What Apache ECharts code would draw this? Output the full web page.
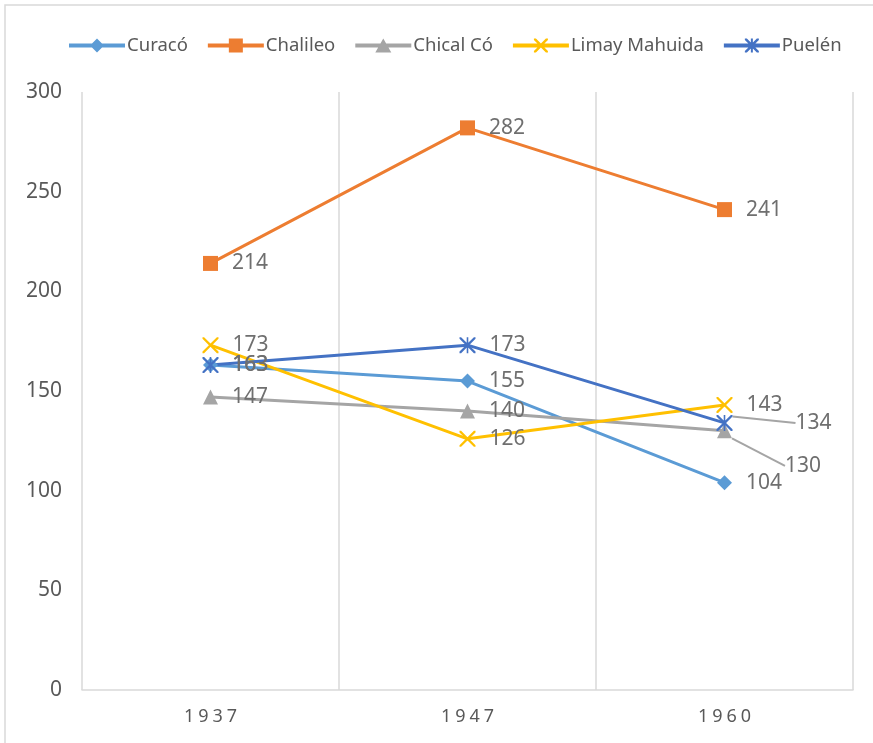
<!DOCTYPE html>
<html>
<head>
<meta charset="utf-8">
<script src="https://cdn.jsdelivr.net/npm/echarts@6/dist/echarts.min.js"></script>
<style>
  html, body { margin: 0; padding: 0; background: #fff; }
  #chart { width: 873px; height: 743px; }
</style>
</head>
<body>
<div id="chart"></div>
<script>
// datos
var years = ['1937', '1947', '1960'];
var curaco = [163, 155, 104];
var chalileo = [214, 282, 241];
var chicalCo = [147, 140, 130];
var limayMahuida = [173, 126, 143];
var puelen = [163, 173, 134];
var yTicks = { min: 0, max: 300, interval: 50 };

var txt = '#595959';
var lblTxt = '#6f6f6f';
var font = 'Noto Sans';

// marcadores tipo Excel
var xMark = 'path://M0,0 L2,0 L10,8 L18,0 L20,0 L20,2 L12,10 L20,18 L20,20 L18,20 L10,12 L2,20 L0,20 L0,18 L8,10 L0,2 Z';
var starMark = 'path://M0,0 L2,0 L10,8 L18,0 L20,0 L20,2 L12,10 L20,18 L20,20 L18,20 L10,12 L2,20 L0,20 L0,18 L8,10 L0,2 Z M9,0 L11,0 L11,20 L9,20 Z';

// iconos de leyenda: línea gruesa + marcador (caja 56x14)
var bar = 'M0,5 L56,5 L56,9 L0,9 Z ';
var legIcons = {
  'Curacó': 'path://' + bar + 'M28,0 L35,7 L28,14 L21,7 Z',
  'Chalileo': 'path://' + bar + 'M21,0 L35,0 L35,14 L21,14 Z',
  'Chical Có': 'path://' + bar + 'M28,0 L36,14 L20,14 Z',
  'Limay Mahuida': 'path://' + bar + 'M21,0 L23,0 L28,5 L33,0 L35,0 L35,1.5 L29.5,7 L35,12.5 L35,14 L33,14 L28,9 L23,14 L21,14 L21,12.5 L26.5,7 L21,1.5 Z',
  'Puelén': 'path://' + bar + 'M21,0 L23,0 L28,5 L33,0 L35,0 L35,1.5 L29.5,7 L35,12.5 L35,14 L33,14 L28,9 L23,14 L21,14 L21,12.5 L26.5,7 L21,1.5 Z M27,0 L29,0 L29,14 L27,14 Z'
};

function mkSerie(name, data, color, symbol, size) {
  return {
    name: name,
    type: 'line',
    data: data,
    symbol: symbol,
    symbolSize: size,
    lineStyle: { width: 3, color: color },
    itemStyle: { color: color },
    label: {
      show: true,
      position: 'right',
      distance: 14,
      color: lblTxt,
      fontSize: 21,
      fontFamily: font
    },
    animation: false
  };
}

// etiqueta desplazada con línea guía
function guided(v) {
  return { value: v, labelLine: { show: true, lineStyle: { color: '#a5a5a5', width: 2 } } };
}

var series = [
  mkSerie('Curacó', curaco, '#5B9BD5', 'diamond', 15),
  mkSerie('Chalileo', chalileo, '#ED7D31', 'rect', 15),
  mkSerie('Chical Có', chicalCo.map(function (v, i) { return i === 2 ? guided(v) : v; }), '#A5A5A5', 'triangle', 15),
  mkSerie('Limay Mahuida', limayMahuida, '#FFC000', xMark, 16),
  mkSerie('Puelén', puelen.map(function (v, i) { return i === 2 ? guided(v) : v; }), '#4472C4', starMark, 16)
];

series[4].labelLayout = function (p) {
  if (p.dataIndex === 2) return { dx: 49 };
};
series[2].labelLayout = function (p) {
  if (p.dataIndex === 2) return { dx: 39, dy: 35 };
};

var chart = echarts.init(document.getElementById('chart'));
chart.setOption({
  backgroundColor: '#fff',
  animation: false,
  textStyle: { fontFamily: font },
  graphic: [{
    type: 'rect',
    shape: { x: 5, y: 5, width: 900, height: 800 },
    style: { fill: 'none', stroke: '#d9d9d9', lineWidth: 1.5 },
    silent: true
  }],
  legend: {
    top: 31,
    left: 64,
    itemWidth: 56,
    itemHeight: 14,
    itemGap: 20,
    textStyle: { color: txt, fontSize: 18.5, fontFamily: font, padding: [0, 0, 0, -3] },
    data: series.map(function (s) { return { name: s.name, icon: legIcons[s.name] }; })
  },
  grid: { left: 82, right: 20, top: 92, bottom: 53 },
  xAxis: {
    type: 'category',
    data: years,
    boundaryGap: true,
    axisLine: { lineStyle: { color: '#d9d9d9', width: 1.5 } },
    axisTick: { show: false },
    axisLabel: {
      color: txt,
      fontSize: 18,
      margin: 18,
      fontFamily: font,
      formatter: function (v) {
        return v.split('').map(function (c) { return '{d|' + c + '}'; }).join('');
      },
      rich: { d: { color: txt, fontSize: 18, fontFamily: font, padding: [0, 2, 0, 2] } }
    },
    splitLine: { show: true, lineStyle: { color: '#d9d9d9', width: 1.5 } }
  },
  yAxis: {
    type: 'value',
    min: yTicks.min,
    max: yTicks.max,
    interval: yTicks.interval,
    axisLine: { show: false },
    axisTick: { show: false },
    axisLabel: { color: txt, fontSize: 21, margin: 20, fontFamily: font },
    splitLine: { show: false }
  },
  series: series
});
</script>
</body>
</html>
